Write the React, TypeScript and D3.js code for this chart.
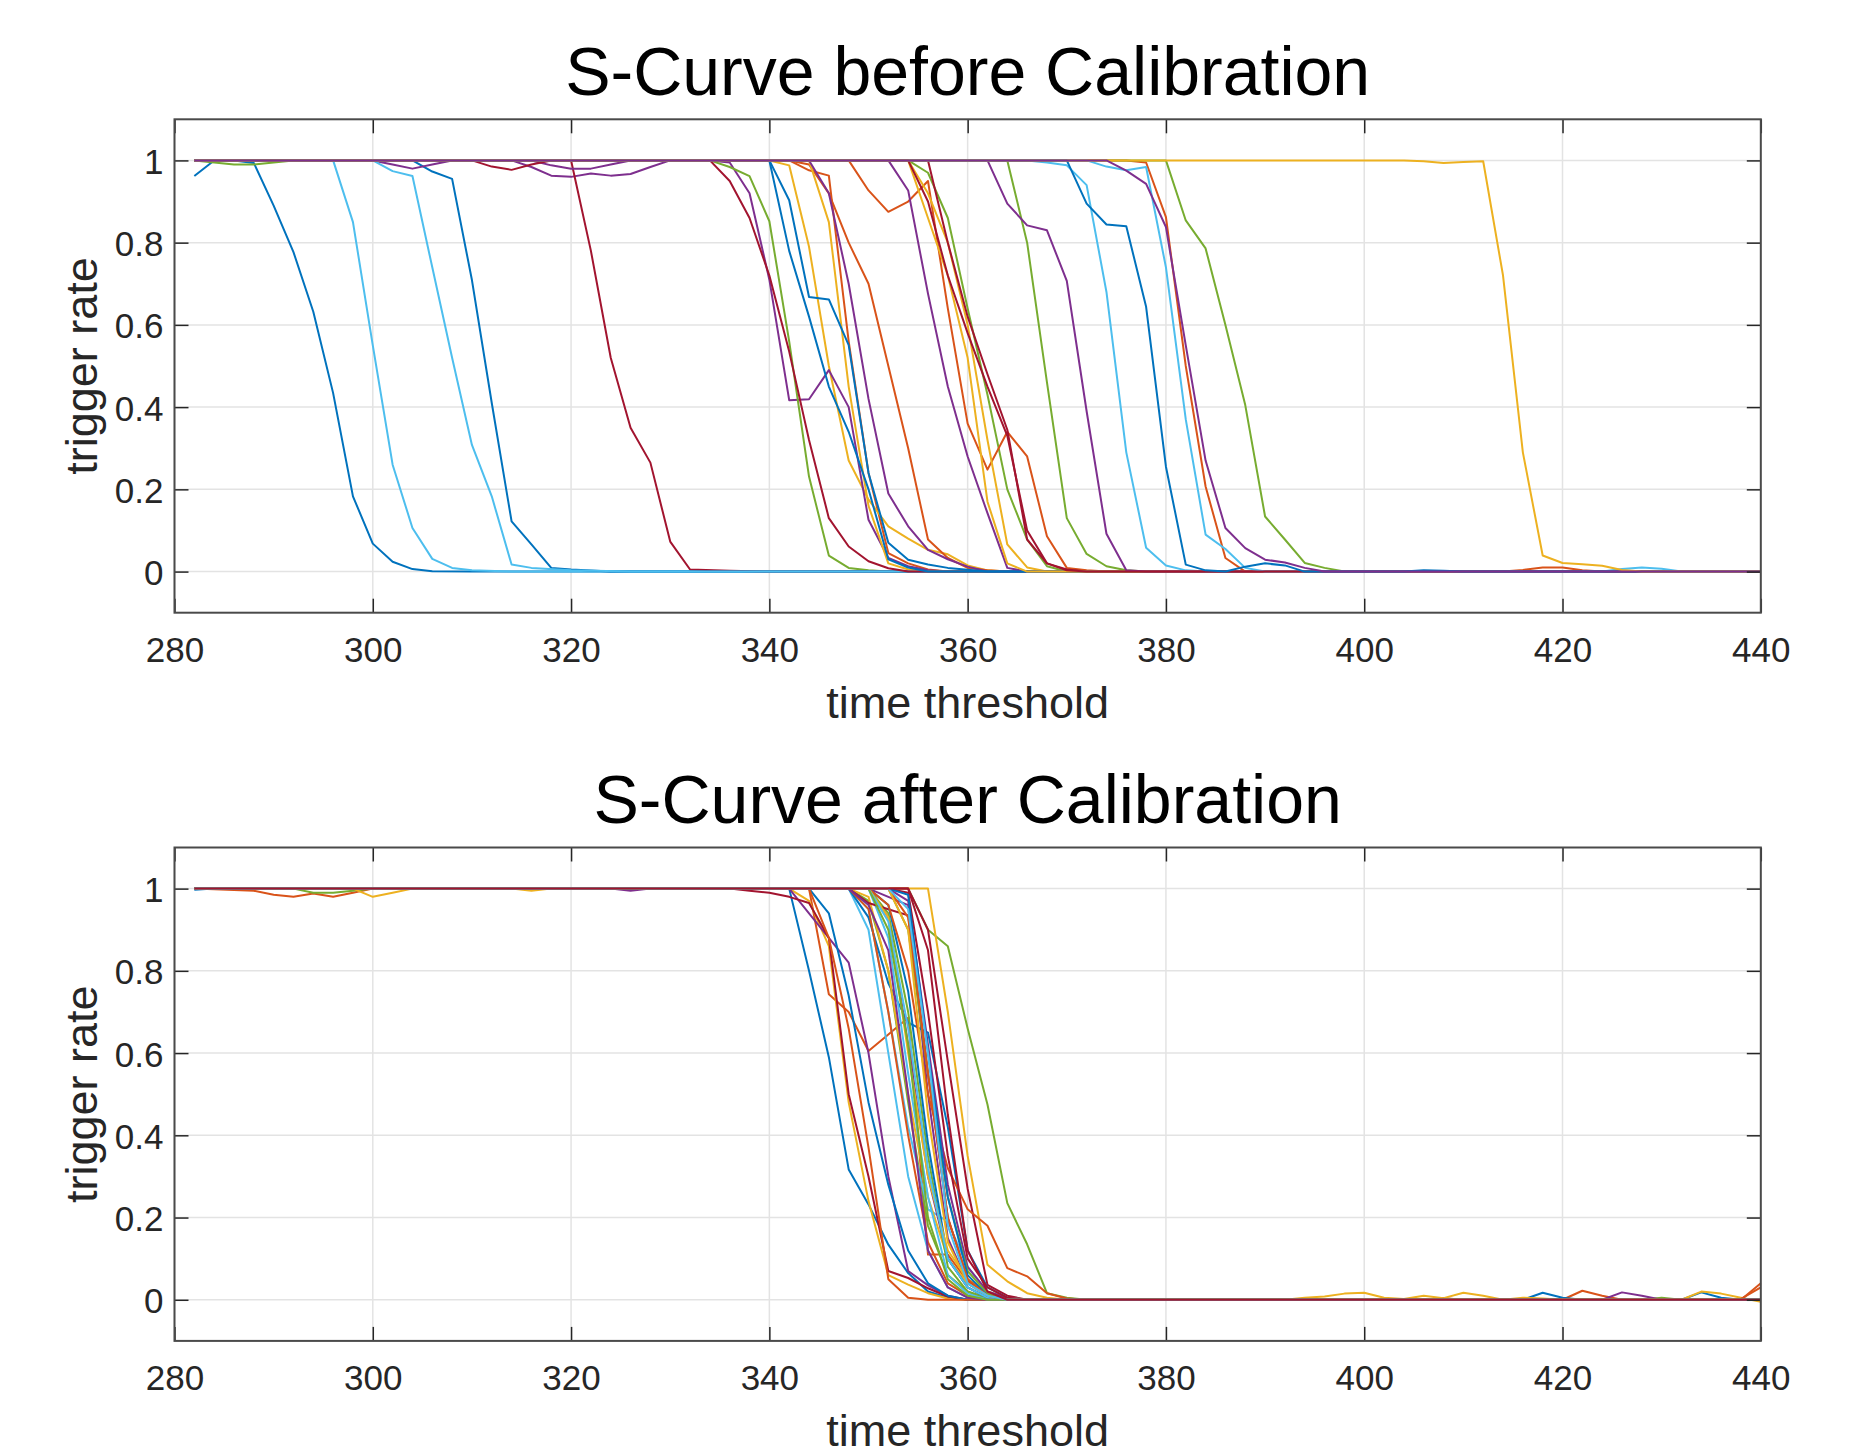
import React, { useRef, useEffect } from 'react';
import * as d3 from 'd3';

type Pt = [number, number];

const xTicks = [280, 300, 320, 340, 360, 380, 400, 420, 440];
const yTicks = [0, 0.2, 0.4, 0.6, 0.8, 1];
const yTickLabels = ['0', '0.2', '0.4', '0.6', '0.8', '1'];

// MATLAB default colour order
const colorOrder = ['#0072BD', '#D95319', '#EDB120', '#7E2F8E', '#77AC30', '#4DBEEE', '#A2142F'];

// ---- before calibration (points are [threshold, rate]) ----
const beforeBlue: Pt[][] = [
  [[282, 0.962], [284, 1], [286, 1], [288, 0.994], [290, 0.89], [292, 0.777], [294, 0.632], [296, 0.434], [298, 0.183], [300, 0.068], [302, 0.024], [304, 0.006], [306, 0.001], [310, 0], [440, 0]],
  [[282, 1], [304, 1], [306, 0.973], [308, 0.955], [310, 0.709], [312, 0.41], [314, 0.122], [316, 0.066], [318, 0.009], [320, 0.005], [324, 0], [440, 0]],
  [[282, 1], [340, 1], [342, 0.903], [344, 0.668], [346, 0.662], [348, 0.551], [350, 0.24], [352, 0.07], [354, 0.029], [356, 0.017], [358, 0.009], [362, 0], [440, 0]],
  [[282, 1], [340, 1], [342, 0.78], [344, 0.62], [346, 0.45], [348, 0.34], [350, 0.2], [352, 0.03], [354, 0.01], [356, 0], [440, 0]],
  [[282, 1], [370, 1], [372, 0.895], [374, 0.844], [376, 0.84], [378, 0.644], [380, 0.255], [382, 0.017], [384, 0.003], [386, 0], [388, 0.012], [390, 0.02], [392, 0.015], [394, 0], [404, 0], [406, 0.003], [408, 0.002], [410, 0], [440, 0]],
];
const beforeOrange: Pt[][] = [
  [[282, 1], [342, 1], [344, 0.976], [346, 0.963], [348, 0.56], [350, 0.24], [352, 0.045], [354, 0.02], [356, 0.005], [358, 0], [440, 0]],
  [[282, 1], [342, 1], [344, 0.99], [346, 0.92], [348, 0.8], [350, 0.7], [352, 0.5], [354, 0.3], [356, 0.078], [358, 0.033], [360, 0.009], [362, 0.003], [364, 0], [440, 0]],
  [[282, 1], [348, 1], [350, 0.927], [352, 0.875], [354, 0.9], [356, 0.95], [358, 0.64], [360, 0.36], [362, 0.248], [364, 0.34], [366, 0.28], [368, 0.086], [370, 0.009], [372, 0.003], [374, 0], [440, 0]],
  [[282, 1], [376, 1], [378, 0.995], [380, 0.862], [382, 0.5], [384, 0.207], [386, 0.033], [388, 0], [414, 0], [416, 0.004], [418, 0.01], [420, 0.01], [422, 0.003], [424, 0], [440, 0]],
];
const beforeYellow: Pt[][] = [
  [[282, 1], [340, 1], [342, 0.988], [344, 0.79], [346, 0.5], [348, 0.27], [350, 0.175], [352, 0.11], [354, 0.08], [356, 0.053], [358, 0.042], [360, 0.015], [362, 0.003], [364, 0], [440, 0]],
  [[282, 1], [344, 1], [346, 0.85], [348, 0.45], [350, 0.16], [352, 0.02], [354, 0.005], [356, 0], [440, 0]],
  [[282, 1], [354, 1], [356, 0.92], [358, 0.8], [360, 0.6], [362, 0.32], [364, 0.066], [366, 0.01], [368, 0], [440, 0]],
  [[282, 1], [354, 1], [356, 0.86], [358, 0.72], [360, 0.52], [362, 0.17], [364, 0.02], [366, 0], [440, 0]],
  [[282, 1], [404, 1], [406, 0.998], [408, 0.994], [410, 0.996], [412, 0.998], [414, 0.72], [416, 0.29], [418, 0.039], [420, 0.021], [422, 0.018], [424, 0.014], [426, 0.004], [428, 0], [440, 0]],
];
const beforePurple: Pt[][] = [
  [[282, 1], [314, 1], [316, 0.984], [318, 0.963], [320, 0.96], [322, 0.968], [324, 0.963], [326, 0.967], [328, 0.984], [330, 1], [334, 1], [336, 0.995], [338, 0.92], [340, 0.71], [342, 0.417], [344, 0.419], [346, 0.49], [348, 0.4], [350, 0.126], [352, 0.033], [354, 0.013], [356, 0.003], [358, 0], [440, 0]],
  [[282, 1], [300, 1], [302, 0.99], [304, 0.98], [306, 0.99], [308, 1], [344, 1], [346, 0.92], [348, 0.7], [350, 0.42], [352, 0.19], [354, 0.11], [356, 0.053], [358, 0.03], [360, 0.012], [362, 0], [440, 0]],
  [[282, 1], [316, 1], [318, 0.988], [320, 0.98], [322, 0.98], [324, 0.99], [326, 1], [352, 1], [354, 0.927], [356, 0.676], [358, 0.45], [360, 0.28], [362, 0.142], [364, 0.009], [366, 0], [440, 0]],
  [[282, 1], [362, 1], [364, 0.895], [366, 0.842], [368, 0.83], [370, 0.707], [372, 0.39], [374, 0.092], [376, 0.003], [378, 0], [440, 0]],
  [[282, 1], [374, 1], [376, 0.975], [378, 0.943], [380, 0.838], [382, 0.55], [384, 0.27], [386, 0.106], [388, 0.057], [390, 0.029], [392, 0.022], [394, 0.009], [396, 0], [440, 0]],
];
const beforeGreen: Pt[][] = [
  [[282, 1], [284, 0.995], [286, 0.99], [288, 0.99], [290, 0.995], [292, 1], [334, 1], [336, 0.984], [338, 0.962], [340, 0.852], [342, 0.56], [344, 0.231], [346, 0.039], [348, 0.009], [350, 0.003], [352, 0], [440, 0]],
  [[282, 1], [354, 1], [356, 0.97], [358, 0.86], [360, 0.64], [362, 0.43], [364, 0.2], [366, 0.078], [368, 0.013], [370, 0], [440, 0]],
  [[282, 1], [364, 1], [366, 0.8], [368, 0.46], [370, 0.13], [372, 0.043], [374, 0.013], [376, 0.003], [378, 0], [440, 0]],
  [[282, 1], [380, 1], [382, 0.854], [384, 0.786], [386, 0.6], [388, 0.405], [390, 0.134], [392, 0.078], [394, 0.021], [396, 0.009], [398, 0], [440, 0]],
];
const beforeCyan: Pt[][] = [
  [[282, 1], [296, 1], [298, 0.85], [300, 0.55], [302, 0.26], [304, 0.106], [306, 0.031], [308, 0.009], [310, 0.003], [314, 0], [440, 0]],
  [[282, 1], [300, 1], [302, 0.974], [304, 0.962], [306, 0.74], [308, 0.52], [310, 0.308], [312, 0.183], [314, 0.017], [316, 0.009], [320, 0.003], [326, 0], [440, 0]],
  [[282, 1], [366, 1], [368, 0.995], [370, 0.988], [372, 0.94], [374, 0.68], [376, 0.29], [378, 0.058], [380, 0.015], [382, 0.003], [384, 0], [440, 0]],
  [[282, 1], [372, 1], [374, 0.985], [376, 0.976], [378, 0.984], [380, 0.74], [382, 0.37], [384, 0.09], [386, 0.055], [388, 0.009], [390, 0], [424, 0], [426, 0.006], [428, 0.01], [430, 0.007], [432, 0], [440, 0]],
];
const beforeRed: Pt[][] = [
  [[282, 1], [320, 1], [322, 0.78], [324, 0.52], [326, 0.35], [328, 0.265], [330, 0.073], [332, 0.005], [336, 0.002], [340, 0], [440, 0]],
  [[282, 1], [334, 1], [336, 0.95], [338, 0.86], [340, 0.72], [342, 0.535], [344, 0.32], [346, 0.13], [348, 0.061], [350, 0.025], [352, 0.008], [354, 0], [440, 0]],
  [[282, 1], [310, 1], [312, 0.985], [314, 0.977], [316, 0.99], [318, 1], [356, 1], [358, 0.8], [360, 0.62], [362, 0.48], [364, 0.345], [366, 0.078], [368, 0.02], [370, 0.005], [372, 0], [440, 0]],
  [[282, 1], [354, 1], [356, 0.9], [358, 0.72], [360, 0.58], [362, 0.45], [364, 0.33], [366, 0.1], [368, 0.02], [370, 0.003], [372, 0], [440, 0]],
];

// ---- after calibration ----
const afterBlue: Pt[][] = [
  [[282, 0.997], [284, 1], [342, 1], [344, 0.8], [346, 0.59], [348, 0.317], [350, 0.232], [352, 0.134], [354, 0.065], [356, 0.02], [358, 0.005], [360, 0], [440, 0]],
  [[282, 1], [344, 1], [346, 0.94], [348, 0.74], [350, 0.48], [352, 0.28], [354, 0.12], [356, 0.04], [358, 0.01], [360, 0], [440, 0]],
  [[282, 1], [348, 1], [350, 0.93], [352, 0.77], [354, 0.674], [356, 0.65], [358, 0.42], [360, 0.12], [362, 0.03], [364, 0.005], [366, 0], [416, 0], [418, 0.017], [420, 0.005], [422, 0], [432, 0], [434, 0.018], [436, 0.005], [438, 0], [440, 0]],
  [[282, 1], [350, 1], [352, 0.96], [354, 0.75], [356, 0.38], [358, 0.1], [360, 0.03], [362, 0.005], [364, 0], [440, 0]],
  [[282, 1], [352, 1], [354, 0.985], [356, 0.6], [358, 0.25], [360, 0.06], [362, 0.01], [364, 0], [440, 0]],
];
const afterOrange: Pt[][] = [
  [[282, 1], [344, 1], [346, 0.743], [348, 0.7], [350, 0.605], [352, 0.645], [354, 0.686], [356, 0.11], [358, 0.11], [360, 0.045], [362, 0.01], [364, 0], [420, 0], [422, 0.022], [424, 0.01], [426, 0], [440, 0]],
  [[282, 1], [288, 0.995], [290, 0.985], [292, 0.98], [294, 0.988], [296, 0.98], [298, 0.99], [300, 1], [344, 1], [346, 0.88], [348, 0.66], [350, 0.37], [352, 0.05], [354, 0.005], [356, 0], [440, 0]],
  [[282, 1], [348, 1], [350, 0.95], [352, 0.7], [354, 0.4], [356, 0.14], [358, 0.04], [360, 0.01], [362, 0], [440, 0]],
  [[282, 1], [350, 1], [352, 0.96], [354, 0.8], [356, 0.5], [358, 0.32], [360, 0.22], [362, 0.18], [364, 0.077], [366, 0.057], [368, 0.016], [370, 0.003], [372, 0], [438, 0], [440, 0.04]],
  [[282, 1], [352, 1], [354, 0.93], [356, 0.55], [358, 0.2], [360, 0.05], [362, 0.01], [364, 0], [438, 0.002], [440, 0.03]],
];
const afterYellow: Pt[][] = [
  [[282, 1], [342, 1], [344, 0.97], [346, 0.86], [348, 0.48], [350, 0.24], [352, 0.06], [354, 0.037], [356, 0.016], [358, 0.003], [360, 0], [440, 0]],
  [[282, 1], [356, 1], [358, 0.7], [360, 0.35], [362, 0.085], [364, 0.045], [366, 0.016], [368, 0.005], [370, 0], [440, 0]],
  [[282, 1], [298, 1], [300, 0.98], [302, 0.99], [304, 1], [348, 1], [350, 0.98], [352, 0.8], [354, 0.5], [356, 0.25], [358, 0.1], [360, 0.04], [362, 0.01], [364, 0], [392, 0], [394, 0.005], [396, 0.008], [398, 0.015], [400, 0.017], [402, 0.005], [404, 0.002], [406, 0.01], [408, 0.004], [410, 0.017], [412, 0.01], [414, 0], [416, 0.005], [418, 0.003], [420, 0], [432, 0], [434, 0.02], [436, 0.015], [438, 0.005], [440, -0.005]],
  [[282, 1], [314, 1], [316, 0.995], [318, 1], [350, 1], [352, 0.93], [354, 0.6], [356, 0.3], [358, 0.12], [360, 0.05], [362, 0.02], [364, 0.005], [366, 0], [440, 0]],
  [[282, 1], [352, 1], [354, 0.9], [356, 0.45], [358, 0.14], [360, 0.04], [362, 0.01], [364, 0], [440, 0]],
];
const afterPurple: Pt[][] = [
  [[282, 1], [342, 1], [344, 0.94], [346, 0.88], [348, 0.82], [350, 0.6], [352, 0.3], [354, 0.07], [356, 0.035], [358, 0.01], [360, 0], [440, 0]],
  [[282, 1], [324, 1], [326, 0.995], [328, 1], [350, 1], [352, 0.98], [354, 0.96], [356, 0.5], [358, 0.15], [360, 0.04], [362, 0.01], [364, 0], [424, 0], [426, 0.018], [428, 0.01], [430, 0], [440, 0]],
  [[282, 1], [350, 1], [352, 0.93], [354, 0.62], [356, 0.3], [358, 0.1], [360, 0.03], [362, 0.005], [364, 0], [440, 0]],
  [[282, 1], [352, 1], [354, 0.97], [356, 0.62], [358, 0.28], [360, 0.08], [362, 0.02], [364, 0.005], [366, 0], [440, 0]],
  [[282, 1], [348, 1], [350, 0.96], [352, 0.85], [354, 0.5], [356, 0.12], [358, 0.03], [360, 0.005], [362, 0], [440, 0]],
];
const afterGreen: Pt[][] = [
  [[282, 1], [354, 1], [356, 0.9], [358, 0.86], [360, 0.66], [362, 0.475], [364, 0.235], [366, 0.135], [368, 0.016], [370, 0.005], [372, 0], [428, 0], [430, 0.005], [432, 0], [440, 0]],
  [[282, 1], [292, 1], [294, 0.99], [296, 0.99], [298, 0.995], [300, 1], [348, 1], [350, 0.97], [352, 0.8], [354, 0.48], [356, 0.18], [358, 0.06], [360, 0.02], [362, 0.005], [364, 0], [440, 0]],
  [[282, 1], [350, 1], [352, 0.94], [354, 0.7], [356, 0.35], [358, 0.08], [360, 0.02], [362, 0], [440, 0]],
  [[282, 1], [352, 1], [354, 0.9], [356, 0.55], [358, 0.25], [360, 0.07], [362, 0.015], [364, 0], [440, 0]],
  [[282, 1], [350, 1], [352, 0.9], [354, 0.62], [356, 0.2], [358, 0.05], [360, 0.01], [362, 0], [440, 0]],
];
const afterCyan: Pt[][] = [
  [[282, 1], [348, 1], [350, 0.9], [352, 0.6], [354, 0.3], [356, 0.12], [358, 0.03], [360, 0.005], [362, 0], [440, 0]],
  [[282, 1], [348, 1], [350, 0.95], [352, 0.7], [354, 0.42], [356, 0.22], [358, 0.19], [360, 0.08], [362, 0.02], [364, 0], [440, 0]],
  [[282, 1], [350, 1], [352, 0.88], [354, 0.55], [356, 0.25], [358, 0.06], [360, 0.015], [362, 0], [440, 0]],
  [[282, 1], [350, 1], [352, 0.92], [354, 0.66], [356, 0.32], [358, 0.1], [360, 0.03], [362, 0.005], [364, 0], [440, 0]],
  [[282, 1], [352, 1], [354, 0.95], [356, 0.6], [358, 0.18], [360, 0.04], [362, 0.01], [364, 0], [440, 0]],
];
const afterRed: Pt[][] = [
  [[282, 1], [336, 1], [338, 0.995], [340, 0.99], [342, 0.98], [344, 0.965], [346, 0.88], [348, 0.5], [350, 0.3], [352, 0.07], [354, 0.053], [356, 0.028], [358, 0.008], [360, 0], [440, 0]],
  [[282, 1], [354, 1], [356, 0.9], [358, 0.58], [360, 0.27], [362, 0.036], [364, 0.01], [366, 0], [406, 0], [408, 0.004], [410, 0], [440, 0]],
  [[282, 1], [348, 1], [350, 0.965], [352, 0.95], [354, 0.935], [356, 0.55], [358, 0.2], [360, 0.05], [362, 0.01], [364, 0], [440, 0]],
  [[282, 1], [352, 1], [354, 0.99], [356, 0.7], [358, 0.35], [360, 0.1], [362, 0.03], [364, 0.005], [366, 0], [440, 0]],
  [[282, 1], [354, 1], [356, 0.85], [358, 0.45], [360, 0.12], [362, 0.02], [364, 0], [440, 0]],
];

const beforeGroups = [beforeBlue, beforeOrange, beforeYellow, beforePurple, beforeGreen, beforeCyan, beforeRed];
const afterGroups = [afterBlue, afterOrange, afterYellow, afterPurple, afterGreen, afterCyan, afterRed];

const W = 1851;
const H = 1446;
const LEFT = 174.5;
const RIGHT = 1760.8;
const PH = 493.4;
const FONT = '"Liberation Sans", Arial, Helvetica, sans-serif';
const INK = '#262626';

const panels = [
  { top: 119.3, title: 'S-Curve before Calibration', groups: beforeGroups },
  { top: 847.5, title: 'S-Curve after Calibration', groups: afterGroups },
];

const App = () => {
  const ref = useRef<SVGSVGElement>(null);

  useEffect(() => {
    if (!ref.current) return;
    const svg = d3.select(ref.current);
    svg.selectAll('*').remove();
    svg.append('rect').attr('width', W).attr('height', H).attr('fill', '#fff');

    panels.forEach((p) => {
      const bottom = p.top + PH;
      const x = d3.scaleLinear().domain([280, 440]).range([LEFT, RIGHT]);
      const y = d3.scaleLinear().domain([-0.1, 1.1]).range([bottom, p.top]);
      const g = svg.append('g');

      // grid
      g.append('g').selectAll('line').data(xTicks).join('line')
        .attr('x1', (d) => x(d)).attr('x2', (d) => x(d))
        .attr('y1', p.top).attr('y2', bottom)
        .attr('stroke', '#e3e3e3').attr('stroke-width', 1.5);
      g.append('g').selectAll('line').data(yTicks).join('line')
        .attr('x1', LEFT).attr('x2', RIGHT)
        .attr('y1', (d) => y(d)).attr('y2', (d) => y(d))
        .attr('stroke', '#e3e3e3').attr('stroke-width', 1.5);

      // curves, drawn in MATLAB's interleaved colour order
      const line = d3.line<Pt>().x((d) => x(d[0])).y((d) => y(d[1]));
      const rounds = d3.max(p.groups, (gr) => gr.length) || 0;
      const lg = g.append('g');
      for (let r = 0; r < rounds; r++) {
        p.groups.forEach((gr, ci) => {
          if (!gr[r]) return;
          lg.append('path')
            .attr('d', line(gr[r]))
            .attr('fill', 'none')
            .attr('stroke', colorOrder[ci])
            .attr('stroke-width', 2)
            .attr('stroke-linejoin', 'round');
        });
      }

      // axes with inward ticks on all sides
      const tick = 14;
      const styleAxis = (sel: any) => {
        sel.select('.domain').remove();
        sel.selectAll('.tick line').attr('stroke', INK).attr('stroke-width', 1.5);
        sel.selectAll('text').attr('fill', INK).attr('font-family', FONT).attr('font-size', 35);
      };
      g.append('g').attr('transform', `translate(0,${bottom})`)
        .call(d3.axisBottom(x).tickValues(xTicks).tickSize(-tick).tickPadding(24).tickFormat(d3.format('d')))
        .call(styleAxis);
      g.append('g').attr('transform', `translate(0,${p.top})`)
        .call(d3.axisTop(x).tickValues(xTicks).tickSize(-tick).tickFormat(() => ''))
        .call(styleAxis);
      g.append('g').attr('transform', `translate(${LEFT},0)`)
        .call(d3.axisLeft(y).tickValues(yTicks).tickSize(-tick).tickPadding(11).tickFormat((d, i) => yTickLabels[i]))
        .call(styleAxis)
        .selectAll('text').attr('dy', '0.37em');
      g.append('g').attr('transform', `translate(${RIGHT},0)`)
        .call(d3.axisRight(y).tickValues(yTicks).tickSize(-tick).tickFormat(() => ''))
        .call(styleAxis);

      g.append('rect')
        .attr('x', LEFT).attr('y', p.top)
        .attr('width', RIGHT - LEFT).attr('height', PH)
        .attr('fill', 'none').attr('stroke', '#4a4a4a').attr('stroke-width', 2);

      // texts
      const cx = (LEFT + RIGHT) / 2;
      g.append('text')
        .attr('x', cx).attr('y', p.top - 24.8)
        .attr('text-anchor', 'middle')
        .attr('font-family', FONT).attr('font-size', 68).attr('fill', '#000')
        .text(p.title);
      g.append('text')
        .attr('x', cx).attr('y', bottom + 105)
        .attr('text-anchor', 'middle')
        .attr('font-family', FONT).attr('font-size', 45).attr('fill', INK)
        .text('time threshold');
      g.append('text')
        .attr('transform', `translate(97,${p.top + PH / 2}) rotate(-90)`)
        .attr('text-anchor', 'middle')
        .attr('font-family', FONT).attr('font-size', 45).attr('fill', INK)
        .text('trigger rate');
    });
  }, []);

  return (
    <svg
      ref={ref}
      width={W}
      height={H}
      style={{ position: 'absolute', left: 0, top: 0, display: 'block' }}
    />
  );
};

export default App;
